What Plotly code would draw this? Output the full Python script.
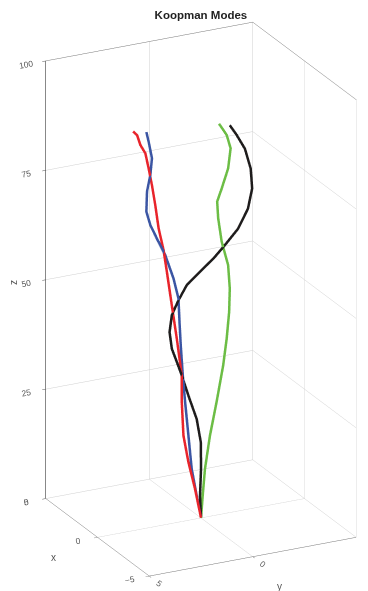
import plotly.graph_objects as go

# ---- data (x, y, z) ----
red_z = [0, 6.9, 13.3, 19.6, 27.3, 33.4, 42.0, 49.8, 57.7, 62.8, 68.0, 73.4, 78.1, 82.1, 85.7, 87.8, 90.2, 91.2]
red_y = [0, 0.29, 0.61, 0.85, 0.93, 0.93, 1.17, 1.41, 1.65, 1.81, 2.05, 2.21, 2.37, 2.53, 2.69, 2.93, 3.09, 3.28]
red_x = [0] * len(red_z)

blue_z = [0, 5.3, 11.6, 19.4, 27.2, 33.3, 40.3, 45.7, 51.1, 55.9, 61.6, 65.7, 69.1, 72.3, 76.9, 80.5, 84.3, 88.2, 90.5]
blue_y = [0, 0.21, 0.45, 0.61, 0.77, 0.88, 0.98, 1.04, 1.09, 1.33, 1.73, 2.13, 2.45, 2.64, 2.61, 2.45, 2.37, 2.53, 2.64]
blue_x = [0] * len(blue_z)

green_z = [0, 5.0, 11.0, 18.4, 25.8, 33.9, 39.9, 45.9, 51.2, 56.6, 62.2, 67.7, 71.6, 74.4, 78.7, 83.2, 86.4, 89.3]
green_y = [0, -0.08, -0.19, -0.43, -0.75, -1.07, -1.24, -1.36, -1.39, -1.31, -1.0, -0.83, -0.78, -1.0, -1.31, -1.43, -1.24, -0.87]
green_x = [0] * len(green_z)

black_z = [0, 5.1, 11.2, 17.3, 22.8, 28.5, 33.4, 36.7, 39.9, 43.8, 47.6, 50.7, 53.8, 56.3, 58.7, 61.3, 64.5, 68.7, 73.1, 77.7, 82.5, 86.0, 88.5]
black_y = [0, 0.05, 0.0, 0.01, 0.21, 0.61, 0.93, 1.17, 1.41, 1.52, 1.41, 1.09, 0.69, 0.05, -0.59, -1.15, -1.79, -2.27, -2.47, -2.40, -2.12, -1.72, -1.39]
black_x = [0] * len(black_z)

x_ticks = [-5, 0, 5]
y_ticks = [0, 5]
z_ticks = [0, 25, 50, 75, 100]

series = [
    (red_x, red_y, red_z, "#e8242b"),
    (blue_x, blue_y, blue_z, "#3b55a3"),
    (green_x, green_y, green_z, "#6cbd45"),
    (black_x, black_y, black_z, "#1e1c1c"),
]

fig = go.Figure()
for xs, ys, zs, col in series:
    fig.add_trace(go.Scatter3d(x=xs, y=ys, z=zs, mode="lines",
                               line=dict(color=col, width=5),
                               showlegend=False, hoverinfo="skip"))

FONT = "Liberation Sans, Arial"
ax_common = dict(showbackground=False, gridcolor="#cfcfcf", gridwidth=1,
                 showline=True, linewidth=1,
                 zeroline=False, showspikes=False,
                 ticks="outside", tickcolor="#555555", ticklen=4,
                 tickfont=dict(family=FONT, size=10, color="#555555"),
                 title=dict(text=""))

k = 0.783
d = 2.0
cx, cy, cz = 0.0202, 0.0543, 0.0157
W, H = 368, 591

label_font = dict(family=FONT, size=10, color="#555555")
fig.update_layout(
    width=W, height=H,
    margin=dict(l=0, r=0, t=0, b=0),
    paper_bgcolor="white",
    title=dict(text="<b>Koopman Modes</b>", x=0.546, xanchor="center", y=0.982, yanchor="top",
               font=dict(family=FONT, size=11.5, color="#222222")),
    scene=dict(
        domain=dict(x=[0, 1], y=[0, 1]),
        xaxis=dict(range=[-5, 5], tickvals=x_ticks, linecolor="#777777", mirror=True, **ax_common),
        yaxis=dict(range=[-5, 5], tickvals=y_ticks, linecolor="#777777", mirror=True, **ax_common),
        zaxis=dict(range=[0, 100], tickvals=z_ticks, linecolor="#111111", mirror=False, **ax_common),
        aspectmode="manual",
        aspectratio=dict(x=1 * k, y=1 * k, z=2.04 * k),
        camera=dict(projection=dict(type="orthographic"),
                    eye=dict(x=-0.828 * d + cx, y=0.414 * d + cy, z=0.374 * d + cz),
                    up=dict(x=0, y=0, z=1), center=dict(x=cx, y=cy, z=cz)),
    ),
    annotations=[
        dict(text="x", x=53 / W, y=1 - 557 / H, xref="paper", yref="paper", showarrow=False,
             xanchor="center", yanchor="middle", font=label_font),
        dict(text="y", x=279 / W, y=1 - 586 / H, xref="paper", yref="paper", showarrow=False,
             xanchor="center", yanchor="middle", font=label_font),
        dict(text="z", x=13 / W, y=1 - 282 / H, xref="paper", yref="paper", showarrow=False,
             xanchor="center", yanchor="middle", textangle=-90, font=label_font),
    ],
)
fig.write_html("out.html")
